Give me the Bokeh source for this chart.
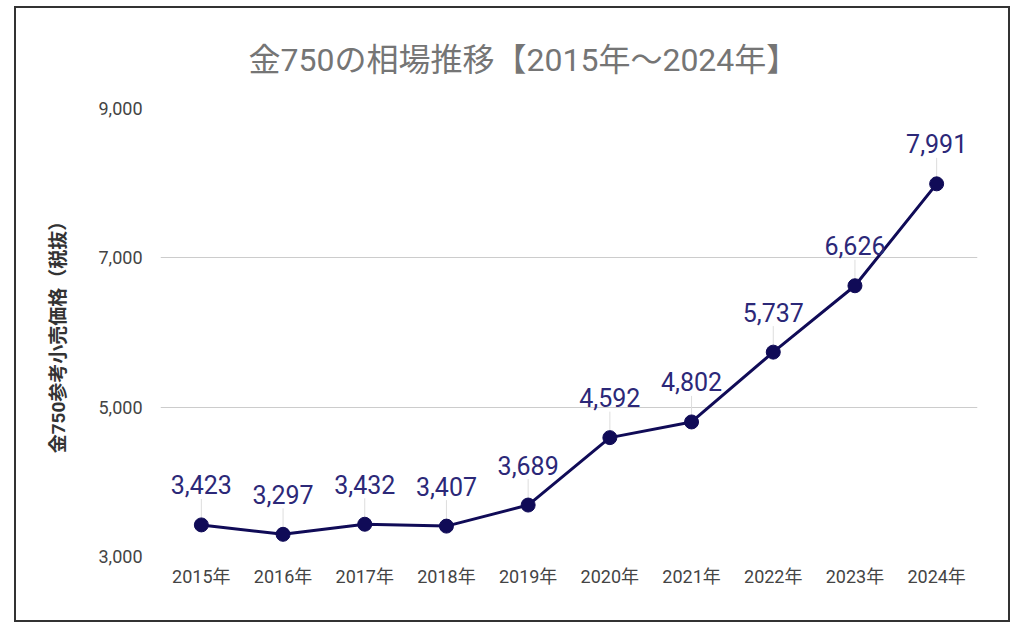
from bokeh.plotting import figure
from bokeh.embed import file_html
from bokeh.resources import INLINE
from bokeh.models import (ColumnDataSource, FactorRange, Range1d, FixedTicker,
                          NumeralTickFormatter)
from bokeh.core.properties import value

# ---- data ----
title_text = "金750の相場推移【2015年～2024年】"
y_axis_title = "金750参考小売価格（税抜）"
years = ["2015年", "2016年", "2017年", "2018年", "2019年",
         "2020年", "2021年", "2022年", "2023年", "2024年"]
prices = [3423, 3297, 3432, 3407, 3689, 4592, 4802, 5737, 6626, 7991]
y_ticks = [3000, 5000, 7000, 9000]
y_min, y_max = 3000, 9000

FONT = "Roboto, 'Noto Sans CJK JP', sans-serif"
LINE_COLOR = "#100b57"
LABEL_COLOR = "#2c2878"

# page placement of the bordered figure
ox, oy = 14, 6
W, H = 996, 616
bw = 2
cx, cy = ox + bw, oy + bw          # canvas origin on the page
cw, ch = W, H                      # canvas size
# frame edges in page coordinates
left, right, top, bottom = 160, 977, 108, 556

p = figure(width=W, height=H, x_range=FactorRange(*years, range_padding=0),
           y_range=Range1d(y_min, y_max), output_backend="svg",
           toolbar_location=None,
           min_border_left=left - cx,
           min_border_right=(cx + cw) - right,
           min_border_top=top - cy,
           min_border_bottom=(cy + ch) - bottom)
p.margin = (oy, 0, 0, ox)
p.styles = {"border": f"{bw}px solid #333333", "box-sizing": "border-box"}

p.outline_line_color = None
p.background_fill_color = "white"
p.border_fill_color = "white"

# title
p.title.text = title_text
p.title.align = "left"
p.title.text_font = FONT
p.title.text_font_size = "32px"
p.title.text_font_style = "normal"
p.title.text_color = "#757575"
p.title.offset = 248 - left
p.title.standoff = 60

# axes
p.xaxis.axis_line_color = None
p.xaxis.major_tick_line_color = None
p.xaxis.minor_tick_line_color = None
p.xaxis.major_label_text_font = FONT
p.xaxis.major_label_text_font_size = "18px"
p.xaxis.major_label_text_color = "#444444"
p.xaxis.major_label_standoff = 3

p.yaxis.axis_line_color = None
p.yaxis.major_tick_line_color = None
p.yaxis.minor_tick_line_color = None
p.yaxis.ticker = FixedTicker(ticks=y_ticks)
p.yaxis.formatter = NumeralTickFormatter(format="0,0")
p.yaxis.major_label_text_font = FONT
p.yaxis.major_label_text_font_size = "18px"
p.yaxis.major_label_text_color = "#444444"
p.yaxis.major_label_standoff = 12
p.yaxis.axis_label = y_axis_title
p.yaxis.axis_label_text_font = FONT
p.yaxis.axis_label_text_font_size = "19px"
p.yaxis.axis_label_text_font_style = "bold"
p.yaxis.axis_label_text_color = "#333333"
p.yaxis.axis_label_standoff = 25

p.xgrid.grid_line_color = None
p.ygrid.grid_line_color = "#cccccc"
p.ygrid.grid_line_width = 1

# data
src = ColumnDataSource(dict(x=years, y=prices,
                            lbl=[f"{v:,}" for v in prices]))
px_per_unit = (bottom - top) / (y_max - y_min)
leader_px = 26
src.data["y_lead"] = [v + leader_px / px_per_unit for v in prices]

p.segment(x0="x", y0="y", x1="x", y1="y_lead", source=src,
          line_color="#dddddd", line_width=1)
p.line("x", "y", source=src, line_color=LINE_COLOR, line_width=3)
p.scatter("x", "y", source=src, size=14, fill_color=LINE_COLOR,
          line_color=LINE_COLOR)
p.text("x", "y", text="lbl", source=src, y_offset=-40,
       text_align="center", text_baseline="middle",
       text_font=value(FONT), text_font_size="25px", text_color=LABEL_COLOR)

open("out.html", "w").write(file_html(p, INLINE))
